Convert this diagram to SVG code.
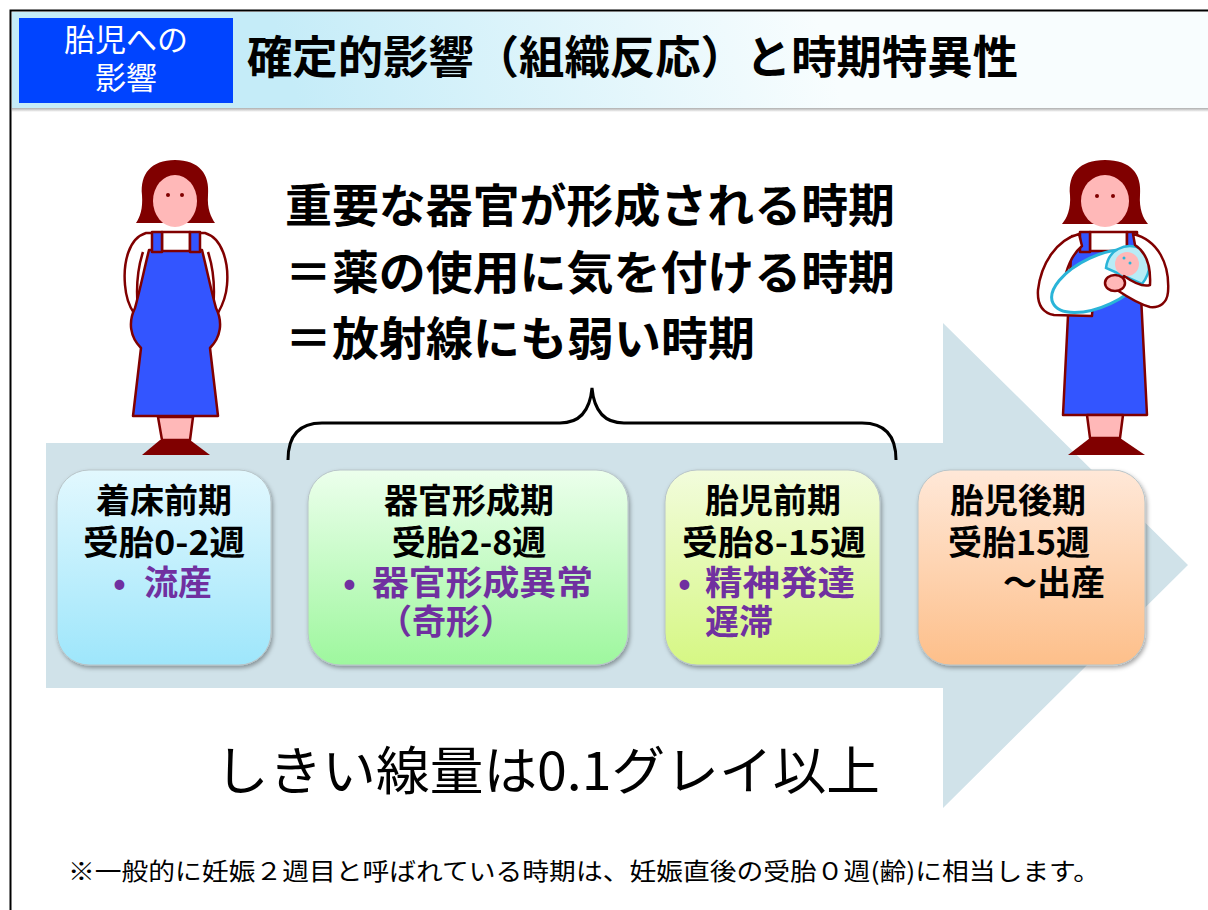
<svg xmlns="http://www.w3.org/2000/svg" width="1208" height="910" viewBox="0 0 1208 910">
  <defs>
    <style>
      .jp { font-family: "Noto Sans CJK JP", "Noto Sans CJK SC", sans-serif; }
      .b { font-weight: bold; }
      .box-t { font-size: 34px; fill: #000; }
      .box-p { font-size: 34px; fill: #7030a0; }
      .lead { font-size: 46px; fill: #000; font-weight: bold; }
      .ol { stroke: #800000; stroke-width: 2.5; stroke-linejoin: round; }
      .hair { fill: #800000; }
      .skin { fill: #ffb8b8; }
      .apron { fill: #3355ff; }
      .shirt { fill: #ffffff; }
      .box { stroke: #b8c4c8; stroke-width: 1; filter: url(#shadow); }
    </style>
    <linearGradient id="hdr" gradientUnits="userSpaceOnUse" x1="300" y1="110" x2="800" y2="-40">
      <stop offset="0" stop-color="#c5ecf8"/>
      <stop offset="1" stop-color="#f8fdfe"/>
    </linearGradient>
    <linearGradient id="hdrShadow" x1="0" y1="0" x2="0" y2="1">
      <stop offset="0" stop-color="#9a9a9a"/>
      <stop offset="1" stop-color="#ffffff"/>
    </linearGradient>
    <linearGradient id="g1" x1="0" y1="0" x2="0" y2="1">
      <stop offset="0" stop-color="#e2f8fe"/>
      <stop offset="1" stop-color="#9ee6fb"/>
    </linearGradient>
    <linearGradient id="g2" x1="0" y1="0" x2="0" y2="1">
      <stop offset="0" stop-color="#ecffec"/>
      <stop offset="1" stop-color="#9ef79e"/>
    </linearGradient>
    <linearGradient id="g3" x1="0" y1="0" x2="0" y2="1">
      <stop offset="0" stop-color="#f2fcdc"/>
      <stop offset="1" stop-color="#d6f784"/>
    </linearGradient>
    <linearGradient id="g4" x1="0" y1="0" x2="0" y2="1">
      <stop offset="0" stop-color="#ffe8d8"/>
      <stop offset="1" stop-color="#fdbf8a"/>
    </linearGradient>
    <filter id="shadow" x="-10%" y="-10%" width="125%" height="125%">
      <feDropShadow dx="1.5" dy="2.5" stdDeviation="2" flood-color="#000" flood-opacity="0.35"/>
    </filter>
  </defs>

  <!-- page frame -->
  <rect x="0" y="0" width="1208" height="910" fill="#ffffff"/>
  <path d="M10.5,910 L10.5,10.5 L1208,10.5" fill="none" stroke="#000" stroke-width="2"/>

  <!-- header band -->
  <g id="header">
    <rect x="12" y="107" width="1196" height="5" fill="url(#hdrShadow)"/>
    <rect x="12" y="12" width="1196" height="96" fill="url(#hdr)"/>
    <rect x="19" y="18" width="214" height="85" fill="#0044ff"/>
    <text class="jp" x="126" y="51" font-size="31" fill="#fff" text-anchor="middle">胎児への</text>
    <text class="jp" x="126" y="89" font-size="31" fill="#fff" text-anchor="middle">影響</text>
    <text class="jp b" x="247" y="74" font-size="45" fill="#000" textLength="771" lengthAdjust="spacingAndGlyphs">確定的影響（組織反応）と時期特異性</text>
  </g>

  <!-- timeline arrow -->
  <polygon id="timeline" points="46,443 943,443 943,323 1188,565 943,808 943,688 46,688" fill="#d0e2e9"/>

  <!-- lead text -->
  <g id="lead">
    <text class="jp lead" x="285" y="222" textLength="610" lengthAdjust="spacingAndGlyphs">重要な器官が形成される時期</text>
    <text class="jp lead" x="285" y="289" textLength="610" lengthAdjust="spacingAndGlyphs">＝薬の使用に気を付ける時期</text>
    <text class="jp lead" x="285" y="355" textLength="470" lengthAdjust="spacingAndGlyphs">＝放射線にも弱い時期</text>
  </g>

  <!-- brace grouping organogenesis and early fetal period -->
  <g id="connectors">
    <path d="M288,460 C288,436 299,423 322,423 L560,423 C580,423 590,410 592,388 C594,410 604,423 624,423 L862,423 C885,423 896,436 896,460" fill="none" stroke="#000" stroke-width="3"/>
  </g>

  <!-- stage boxes -->
  <g id="stage-preimplantation">
    <rect class="box" x="57" y="470" width="214" height="195" rx="32" fill="url(#g1)"/>
    <text class="jp b box-t" x="164" y="513" text-anchor="middle">着床前期</text>
    <text class="jp b box-t" x="164" y="555" text-anchor="middle" textLength="162" lengthAdjust="spacingAndGlyphs">受胎0-2週</text>
    <text class="jp b box-p" x="113" y="595">•</text>
    <text class="jp b box-p" x="144" y="595">流産</text>
  </g>

  <g id="stage-organogenesis">
    <rect class="box" x="308" y="470" width="320" height="195" rx="32" fill="url(#g2)"/>
    <text class="jp b box-t" x="469" y="513" text-anchor="middle">器官形成期</text>
    <text class="jp b box-t" x="469" y="555" text-anchor="middle">受胎2-8週</text>
    <text class="jp b box-p" x="343" y="595">•</text>
    <text class="jp b box-p" x="372" y="595" textLength="221" lengthAdjust="spacingAndGlyphs">器官形成異常</text>
    <text class="jp b box-p" x="378" y="634">（奇形）</text>
  </g>

  <g id="stage-early-fetal">
    <rect class="box" x="665" y="470" width="215" height="195" rx="32" fill="url(#g3)"/>
    <text class="jp b box-t" x="773" y="513" text-anchor="middle">胎児前期</text>
    <text class="jp b box-t" x="774" y="555" text-anchor="middle" textLength="184" lengthAdjust="spacingAndGlyphs">受胎8-15週</text>
    <text class="jp b box-p" x="678" y="595">•</text>
    <text class="jp b box-p" x="705" y="595" textLength="150" lengthAdjust="spacingAndGlyphs">精神発達</text>
    <text class="jp b box-p" x="705" y="634">遅滞</text>
  </g>

  <g id="stage-late-fetal">
    <rect class="box" x="918" y="470" width="227" height="195" rx="32" fill="url(#g4)"/>
    <text class="jp b box-t" x="950" y="513">胎児後期</text>
    <text class="jp b box-t" x="948" y="555">受胎15週</text>
    <text class="jp b box-t" x="1003" y="595">～出産</text>
  </g>

  <!-- pregnant woman -->
  <g id="woman-pregnant">
    <path class="hair" d="M175,160 C151,160 140,174 142,195 C143,209 140,217 136,223 L215,223 C211,217 207,209 208,195 C210,174 199,160 175,160 Z"/>
    <ellipse class="skin" cx="175" cy="201" rx="22" ry="26"/>
    <circle cx="168" cy="195" r="2" fill="#800000"/>
    <circle cx="182" cy="195" r="2" fill="#800000"/>
    <path class="shirt ol" d="M146,233 C129,238 123,262 125,285 C126,298 129,306 134,313 L218,313 C222,306 226,298 227,285 C229,262 222,238 205,233 Z"/>
    <path d="M143,252 C137,270 136,290 138,310 M208,252 C214,270 215,290 213,310" fill="none" stroke="#800000" stroke-width="2.5"/>
    <path class="apron ol" d="M149,250 L202,250 C207,270 211,290 216,308 C223,322 221,337 210,348 L218,416 L133,416 L141,348 C130,337 128,322 135,308 C140,290 144,270 149,250 Z"/>
    <rect class="shirt ol" x="162" y="232" width="28" height="19"/>
    <rect class="apron ol" x="152" y="232" width="10" height="20"/>
    <rect class="apron ol" x="190" y="232" width="10" height="20"/>
    <polygon class="skin ol" points="158,417 193,417 190,440 162,440"/>
    <polygon class="hair" points="160,440 190,440 210,455 142,455"/>
  </g>

  <!-- mother holding baby -->
  <g id="woman-with-baby">
    <path class="hair" d="M1105,160 C1079,160 1068,174 1070,195 C1071,209 1067,218 1062,224 L1148,224 C1143,218 1139,209 1140,195 C1142,174 1131,160 1105,160 Z"/>
    <ellipse class="skin" cx="1105" cy="201" rx="24" ry="26"/>
    <circle cx="1097" cy="196" r="2" fill="#800000"/>
    <circle cx="1113" cy="196" r="2" fill="#800000"/>
    <path class="apron ol" d="M1072,236 L1138,236 L1147,415 L1063,415 Z"/>
    <rect class="shirt ol" x="1090" y="232" width="37" height="19"/>
    <rect class="apron ol" x="1080" y="232" width="10" height="20"/>
    <rect class="apron ol" x="1127" y="232" width="10" height="20"/>
    <path class="shirt ol" d="M1079,234 C1056,240 1041,264 1038,290 C1037,305 1043,313 1054,315 L1092,316 L1093,298 L1062,296 C1064,274 1070,256 1082,246 Z"/>
    <ellipse cx="1100" cy="281" rx="52" ry="25" transform="rotate(-25 1100 281)" fill="#ffffff" stroke="#2ab4d8" stroke-width="3"/>
    <path d="M1106,268 C1108,250 1125,242 1140,248 C1152,254 1152,272 1142,284 Z" fill="#b8ecf6" stroke="#2ab4d8" stroke-width="2.5"/>
    <circle class="skin" cx="1127" cy="264" r="12"/>
    <circle cx="1124" cy="258" r="1.5" fill="#2ab4d8"/>
    <circle cx="1130" cy="263" r="1.5" fill="#2ab4d8"/>
    <path class="shirt ol" d="M1133,234 C1158,240 1170,264 1168,292 C1167,303 1160,308 1150,307 C1138,304 1126,296 1117,290 L1124,276 C1134,283 1144,287 1150,285 C1151,266 1146,252 1135,245 Z"/>
    <ellipse class="skin ol" cx="1115" cy="283" rx="10" ry="8"/>
    <polygon class="skin ol" points="1087,415 1123,415 1120,438 1090,438"/>
    <polygon class="hair" points="1090,438 1120,438 1145,455 1068,455"/>
  </g>

  <!-- threshold dose -->
  <text id="threshold" class="jp" x="215" y="790" font-size="52" fill="#000" textLength="665" lengthAdjust="spacingAndGlyphs">しきい線量は0.1グレイ以上</text>

  <!-- footnote -->
  <text id="footnote" class="jp" x="68" y="880" font-size="24" fill="#000" textLength="1032" lengthAdjust="spacingAndGlyphs">※一般的に妊娠２週目と呼ばれている時期は、妊娠直後の受胎０週(齢)に相当します。</text>
</svg>
